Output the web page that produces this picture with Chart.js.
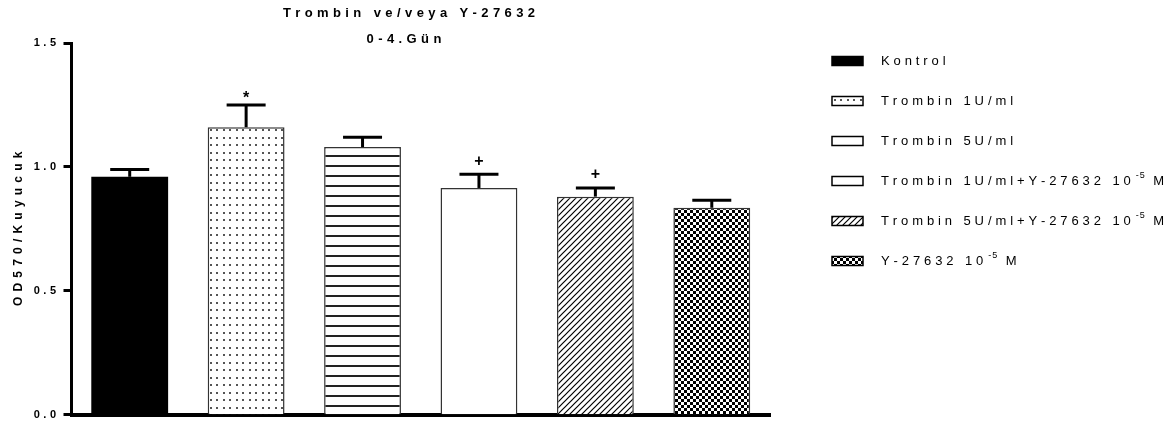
<!DOCTYPE html>
<html>
<head>
<meta charset="utf-8">
<script src="https://cdn.jsdelivr.net/npm/chart.js@4.4.1/dist/chart.umd.min.js"></script>
<style>
  html, body { margin: 0; padding: 0; background: #fff; }
  #wrap { width: 1174px; height: 427px; }
</style>
</head>
<body>
<div id="wrap"><canvas id="c" width="1174" height="427"></canvas></div>
<script>
// Groups (legend text; "^{..}" marks a superscript)
const groups = [
  'Kontrol',
  'Trombin 1U/ml',
  'Trombin 5U/ml',
  'Trombin 1U/ml+Y-27632 10^{-5} M',
  'Trombin 5U/ml+Y-27632 10^{-5} M',
  'Y-27632 10^{-5} M'
];
// Mean OD570 per well and error (upper whisker)
const means  = [0.96, 1.16, 1.08, 0.915, 0.88, 0.835];
const errors = [0.03, 0.09, 0.04, 0.055, 0.035, 0.03];
// Significance marks above the whiskers
const marks  = ['', '*', '', '+', '+', ''];
const yTicks = [0, 0.5, 1.0, 1.5];
const titleLines = ['Trombin ve/veya Y-27632', '0-4.Gün'];
const yTitle = 'OD570/Kuyucuk';

const FONT = '"Liberation Sans", Arial, Helvetica, sans-serif';
const canvas = document.getElementById('c');
const ctx = canvas.getContext('2d');

function makePattern(w, h, paint) {
  const c = document.createElement('canvas');
  c.width = w; c.height = h;
  const g = c.getContext('2d');
  g.fillStyle = '#fff';
  g.fillRect(0, 0, w, h);
  paint(g, w, h);
  return ctx.createPattern(c, 'repeat');
}

const fills = [
  '#000',
  // fine dots
  makePattern(13, 15, g => {
    g.fillStyle = '#555';
    [[2, 2], [8, 2], [2, 9], [8, 9]].forEach(([x, y]) => g.fillRect(x, y, 2, 2));
  }),
  // horizontal rules
  makePattern(10, 10, g => { g.fillStyle = '#222'; g.fillRect(0, 5, 10, 2); }),
  '#fff',
  // diagonal hatch
  makePattern(6, 6, g => {
    g.strokeStyle = '#000'; g.lineWidth = 1.2;
    g.beginPath();
    g.moveTo(-1, 7); g.lineTo(7, -1);
    g.moveTo(-1, 1); g.lineTo(1, -1);
    g.moveTo(5, 7); g.lineTo(7, 5);
    g.stroke();
  }),
  // checkerboard
  makePattern(6, 6, g => { g.fillStyle = '#000'; g.fillRect(0, 0, 3, 3); g.fillRect(3, 3, 3, 3); })
];
const borders = ['#000', '#333', '#333', '#333', '#333', '#333'];

// Draw text with extra spacing between characters
function spacedWidth(g, text, sp) {
  let w = 0;
  for (const ch of text) w += g.measureText(ch).width;
  return w + sp * Math.max(0, [...text].length - 1);
}
function drawSpaced(g, text, x, y, sp, align) {
  const w = spacedWidth(g, text, sp);
  let cx = align === 'center' ? x - w / 2 : align === 'right' ? x - w : x;
  g.textAlign = 'left';
  for (const ch of text) {
    g.fillText(ch, cx, y);
    cx += g.measureText(ch).width + sp;
  }
  return cx - sp;
}

const decorations = {
  id: 'decorations',
  beforeDraw(chart) {
    chart.ctx.letterSpacing = '3.5px';
  },
  afterDatasetsDraw(chart) {
    const g = chart.ctx;
    const y = chart.scales.y;
    const meta = chart.getDatasetMeta(0);
    g.save();
    g.letterSpacing = '0px';
    g.strokeStyle = '#000';
    g.fillStyle = '#000';
    meta.data.forEach((bar, i) => {
      const top = y.getPixelForValue(means[i] + errors[i]);
      const base = y.getPixelForValue(means[i]);
      g.lineWidth = 3;
      g.beginPath();
      g.moveTo(bar.x, base);
      g.lineTo(bar.x, top);
      g.stroke();
      g.beginPath();
      g.moveTo(bar.x - 19.5, top);
      g.lineTo(bar.x + 19.5, top);
      g.stroke();
      if (marks[i]) {
        g.font = 'bold 16px ' + FONT;
        g.textAlign = 'center';
        g.textBaseline = 'middle';
        const dy = marks[i] === '*' ? 6 : 13;
        g.fillText(marks[i], bar.x, top - dy);
      }
    });
    g.restore();
  },
  afterDraw(chart) {
    const g = chart.ctx;
    const area = chart.chartArea;
    g.save();
    g.letterSpacing = '0px';
    g.fillStyle = '#000';
    g.textBaseline = 'middle';

    // chart title
    g.font = 'bold 13px ' + FONT;
    drawSpaced(g, titleLines[0], 409, 13, 4.4, 'center');
    drawSpaced(g, titleLines[1], 404, 39, 4.4, 'center');

    // y-axis title
    g.save();
    g.translate(19, (area.top + area.bottom) / 2);
    g.rotate(-Math.PI / 2);
    g.font = 'bold 12px ' + FONT;
    drawSpaced(g, yTitle, 0, 0, 5.2, 'center');
    g.restore();

    // legend
    const bx = 832, bw = 31, bh = 9, tx = 881;
    groups.forEach((label, i) => {
      const cy = 61 + i * 40;
      g.fillStyle = fills[i];
      g.fillRect(bx, cy - bh / 2, bw, bh);
      g.strokeStyle = '#000';
      g.lineWidth = 1.5;
      g.strokeRect(bx, cy - bh / 2, bw, bh);
      g.fillStyle = '#000';
      const parts = label.split(/\^\{([^}]*)\}/);
      let x = tx;
      parts.forEach((p, k) => {
        if (!p) return;
        if (k % 2 === 1) {
          g.font = '9px ' + FONT;
          x = drawSpaced(g, p, x + 1, cy - 5, 1, 'left') + 1;
        } else {
          g.font = '13px ' + FONT;
          x = drawSpaced(g, p, x, cy, 3.9, 'left') + 3.9;
        }
      });
    });
    g.restore();
  }
};

new Chart(ctx, {
  type: 'bar',
  data: {
    labels: groups,
    datasets: [{
      data: means,
      backgroundColor: fills,
      borderColor: borders,
      borderWidth: [0, 1.5, 1.5, 1.5, 1.5, 1.5],
      barPercentage: 0.66,
      categoryPercentage: 1
    }]
  },
  options: {
    responsive: false,
    animation: false,
    devicePixelRatio: 1,
    layout: { padding: { left: 0, right: 404, top: 43, bottom: 0 } },
    plugins: {
      legend: { display: false },
      tooltip: { enabled: false },
      title: { display: false }
    },
    scales: {
      x: {
        grid: { display: false, drawTicks: false },
        ticks: { display: false },
        border: { display: true, width: 4, color: '#000' },
        afterFit(s) { s.height = 12.3; }
      },
      y: {
        min: 0,
        max: 1.5,
        afterBuildTicks(s) { s.ticks = yTicks.map(v => ({ value: v })); },
        ticks: {
          color: '#000',
          padding: 4,
          font: { family: FONT, size: 11, weight: 'bold' },
          callback: v => Number(v).toFixed(1)
        },
        grid: { drawOnChartArea: false, tickLength: 8, tickWidth: 3, tickColor: '#000' },
        border: { display: true, width: 3, color: '#000' },
        afterFit(s) { s.width = 71.5; }
      }
    }
  },
  plugins: [decorations]
});
</script>
</body>
</html>
